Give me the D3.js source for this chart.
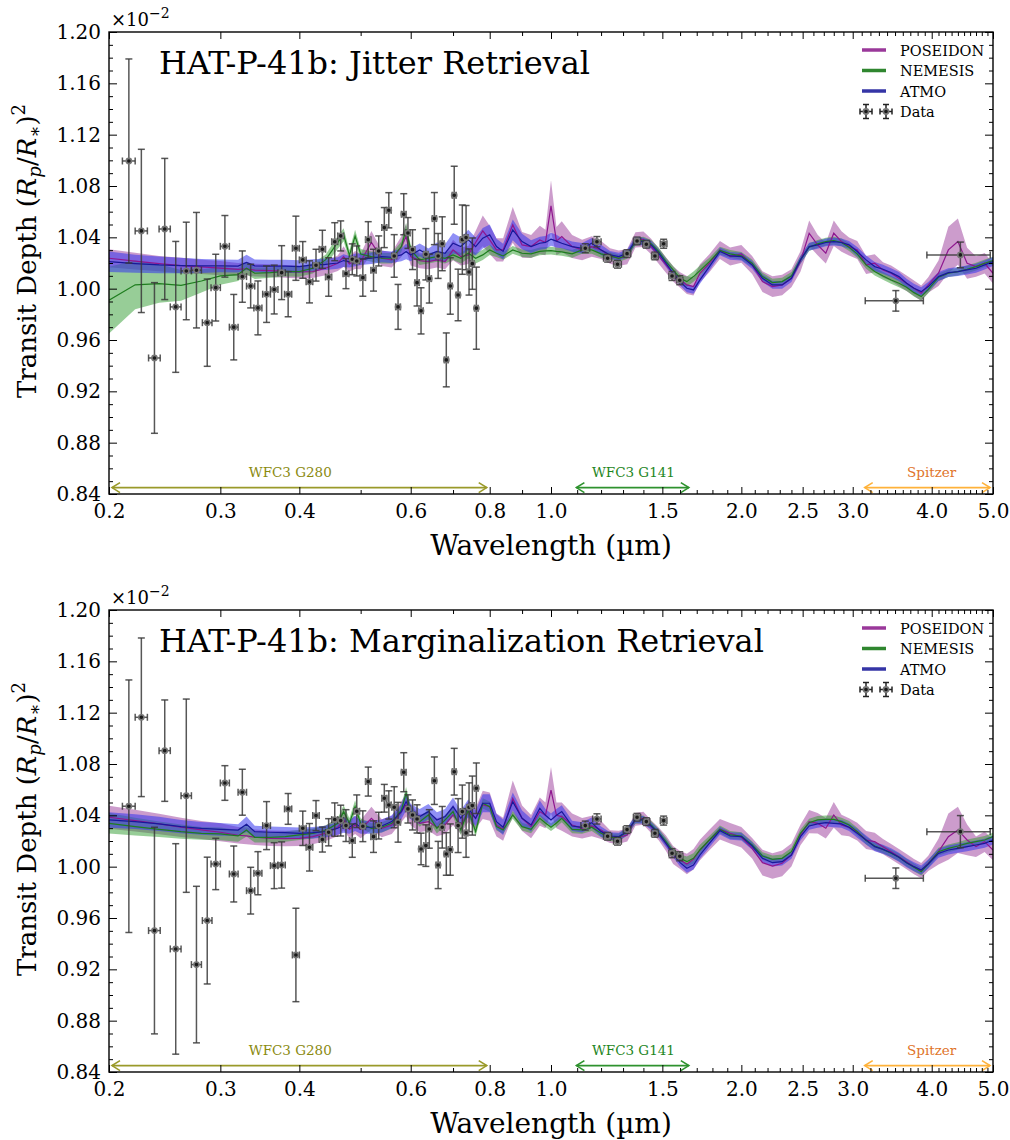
<!DOCTYPE html>
<html>
<head>
<meta charset="utf-8">
<script src="https://cdn.jsdelivr.net/npm/d3@7"></script>
<style>
  body { margin: 0; background: #fff; }
  text { font-family: "DejaVu Serif", serif; }
</style>
</head>
<body>
<svg id="fig" width="1010" height="1140"></svg>
<script>
// ---------- model wavelength grid (µm) ----------
const modelWl = [0.20,0.22,0.24,0.26,0.28,0.30,0.32,0.33,0.34,0.36,0.38,0.40,0.42,0.44,0.46,0.47,0.48,0.49,0.50,
  0.52,0.54,0.56,0.58,0.59,0.60,0.62,0.64,0.66,0.68,0.70,0.72,0.74,0.76,0.78,0.80,0.82,0.84,0.87,0.90,0.93,0.96,0.98,
  1.00,1.02,1.04,1.08,1.12,1.16,1.20,1.24,1.28,1.32,1.36,1.40,1.44,1.48,1.52,1.56,1.60,1.64,1.68,1.72,1.78,1.85,1.92,
  2.00,2.08,2.16,2.24,2.32,2.40,2.48,2.56,2.64,2.72,2.80,2.88,2.96,3.05,3.15,3.25,3.35,3.45,3.55,3.65,3.75,3.85,3.95,
  4.10,4.25,4.40,4.55,4.70,4.85,5.00];

// ---------- Jitter retrieval: model medians and 1-sigma half widths (x1e-2) ----------
const jitPoseidon = [1.0237,1.0215,1.0195,1.018,1.017,1.016,1.015,1.0155,1.0145,1.014,1.0135,1.013,1.0133,1.0159,1.0198,1.025,1.0193,1.0224,1.0211,
  1.036,1.0237,1.0224,1.0328,1.0406,1.025,1.0219,1.0211,1.0224,1.0211,1.0302,1.025,1.0263,1.036,1.045,1.038,1.0302,1.0302,1.0497,1.0341,1.0328,1.038,1.036,
  1.0645,1.037,1.0406,1.0328,1.0302,1.0328,1.0302,1.0255,1.0237,1.025,1.038,1.0385,1.0328,1.0255,1.0185,1.0115,1.0068,1.0029,1.0016,1.012,1.0198,1.0302,1.025,
  1.0271,1.0185,1.0055,1.0016,1.0029,1.0081,1.0211,1.0432,1.0341,1.0276,1.0432,1.0367,1.0328,1.0302,1.0185,1.0198,1.0146,1.012,1.0081,1.0042,1.0003,0.9964,1.0029,
  1.012,1.0302,1.0367,1.0198,1.0172,1.0198,1.012];
const jitPoseidonErr = [0.007,0.0065,0.006,0.006,0.0055,0.0055,0.005,0.005,0.005,0.005,0.005,0.005,0.005,0.0055,0.006,0.008,0.006,0.007,0.006,
  0.009,0.006,0.006,0.008,0.01,0.007,0.006,0.006,0.006,0.006,0.008,0.007,0.007,0.009,0.012,0.011,0.009,0.009,0.014,0.01,0.009,0.011,0.01,
  0.02,0.011,0.012,0.009,0.008,0.008,0.007,0.006,0.006,0.006,0.006,0.006,0.006,0.006,0.006,0.006,0.006,0.007,0.007,0.007,0.007,0.007,0.007,
  0.007,0.007,0.008,0.008,0.008,0.007,0.008,0.01,0.008,0.008,0.01,0.008,0.007,0.007,0.007,0.007,0.006,0.006,0.006,0.006,0.006,0.006,0.006,
  0.01,0.018,0.018,0.012,0.008,0.008,0.008];
const jitNemesis = [0.991,1.003,1.004,1.0025,1.006,1.010,1.011,1.016,1.012,1.0125,1.0135,1.0133,1.0159,1.0224,1.036,1.042,1.026,1.041,1.027,
  1.025,1.0237,1.0237,1.0328,1.0463,1.0302,1.0224,1.0237,1.025,1.0237,1.0263,1.0237,1.0276,1.0237,1.0263,1.0302,1.0276,1.0255,1.0302,1.0276,1.0271,1.029,1.0295,
  1.0297,1.029,1.0286,1.0271,1.0302,1.0302,1.0271,1.0255,1.0237,1.0263,1.0367,1.0375,1.0349,1.029,1.0211,1.0146,1.0081,1.0055,1.0094,1.0141,1.0211,1.0297,1.0271,
  1.0255,1.0198,1.0094,1.0047,1.0055,1.0099,1.0224,1.0323,1.0349,1.0367,1.0375,1.036,1.0323,1.0271,1.0185,1.0133,1.0099,1.0068,1.0042,1.0011,0.9969,0.9938,0.9995,
  1.0089,1.012,1.0133,1.0151,1.0172,1.0198,1.0219];
const jitNemesisErr = [0.026,0.019,0.015,0.012,0.009,0.007,0.005,0.005,0.0045,0.004,0.004,0.004,0.004,0.004,0.005,0.005,0.004,0.005,0.004,
  0.004,0.004,0.004,0.004,0.005,0.004,0.004,0.004,0.004,0.004,0.004,0.004,0.004,0.004,0.004,0.004,0.003,0.003,0.003,0.003,0.003,0.003,0.003,
  0.003,0.003,0.003,0.003,0.003,0.003,0.003,0.003,0.003,0.003,0.003,0.003,0.003,0.003,0.003,0.003,0.003,0.004,0.004,0.004,0.003,0.003,0.003,
  0.003,0.003,0.003,0.003,0.003,0.003,0.003,0.003,0.003,0.003,0.003,0.003,0.003,0.003,0.003,0.003,0.003,0.003,0.003,0.003,0.003,0.003,0.003,
  0.003,0.003,0.003,0.003,0.003,0.003,0.003];
const jitAtmo = [1.021,1.0195,1.0185,1.018,1.0177,1.0177,1.0176,1.0205,1.0178,1.0175,1.0175,1.0172,1.0185,1.019,1.020,1.0219,1.021,1.0224,1.023,
  1.0237,1.025,1.0245,1.0263,1.029,1.0263,1.0302,1.0263,1.029,1.0276,1.0354,1.0328,1.038,1.0328,1.0393,1.042,1.0328,1.029,1.0458,1.0367,1.0328,1.0354,1.036,
  1.0385,1.037,1.0354,1.0328,1.0315,1.0354,1.0302,1.0263,1.025,1.0276,1.0375,1.0367,1.0341,1.0276,1.0198,1.012,1.0055,1.0003,0.999,1.0068,1.0172,1.029,1.0255,
  1.025,1.0185,1.0081,1.0029,1.0029,1.0081,1.0224,1.0328,1.0341,1.036,1.0367,1.036,1.0341,1.029,1.0224,1.0172,1.0151,1.0125,1.0094,1.0042,1.0003,0.9977,1.0016,
  1.0094,1.0125,1.0133,1.0146,1.0159,1.0185,1.0211];
const jitAtmoErr = [0.008,0.007,0.0065,0.006,0.0055,0.005,0.005,0.006,0.005,0.005,0.005,0.005,0.0045,0.0045,0.0045,0.005,0.0045,0.005,0.0045,
  0.0045,0.0045,0.0045,0.005,0.006,0.005,0.005,0.005,0.007,0.007,0.008,0.007,0.008,0.007,0.008,0.008,0.006,0.006,0.008,0.006,0.005,0.005,0.005,
  0.005,0.005,0.004,0.004,0.004,0.004,0.004,0.003,0.003,0.003,0.003,0.003,0.003,0.003,0.003,0.003,0.003,0.003,0.003,0.003,0.003,0.003,0.003,
  0.003,0.003,0.003,0.003,0.003,0.003,0.003,0.003,0.003,0.003,0.003,0.003,0.003,0.0035,0.0035,0.0035,0.0035,0.0035,0.0035,0.0035,0.0035,0.0035,0.0035,
  0.0035,0.0035,0.0035,0.0035,0.0035,0.0035,0.0035];

// ---------- Marginalization retrieval: model medians and 1-sigma half widths (x1e-2) ----------
const margPoseidon = [1.0385,1.0359,1.0333,1.0307,1.0286,1.0268,1.0245,1.024,1.0229,1.0221,1.0219,1.0221,1.0234,1.026,1.0307,1.0364,1.0291,1.0325,1.0291,
  1.0377,1.0299,1.0325,1.0429,1.0481,1.0403,1.0338,1.0351,1.0307,1.0325,1.0403,1.0325,1.0429,1.0377,1.0481,1.0468,1.0325,1.0291,1.0532,1.0377,1.0312,1.0429,1.040,
  1.0597,1.040,1.039,1.0325,1.0299,1.0317,1.0286,1.0234,1.0229,1.0247,1.0369,1.0377,1.0312,1.0255,1.0182,1.0091,1.0052,1.0021,1.0057,1.013,1.0208,1.0291,1.026,
  1.0229,1.0143,1.0031,1.0005,1.0026,1.0091,1.0247,1.0351,1.0338,1.0299,1.0403,1.0325,1.0307,1.0273,1.0208,1.0195,1.0156,1.0117,1.0078,1.0039,1.0,0.9969,1.0026,
  1.0117,1.0234,1.0286,1.0208,1.0156,1.0195,1.013];
const margPoseidonErr = [0.009,0.0085,0.008,0.0075,0.007,0.007,0.0065,0.0065,0.006,0.006,0.006,0.006,0.006,0.006,0.007,0.008,0.007,0.007,0.007,
  0.009,0.007,0.007,0.008,0.009,0.008,0.007,0.007,0.007,0.007,0.008,0.007,0.008,0.008,0.011,0.011,0.009,0.009,0.014,0.01,0.009,0.011,0.01,
  0.018,0.01,0.011,0.009,0.008,0.008,0.007,0.005,0.005,0.005,0.005,0.005,0.005,0.005,0.006,0.007,0.007,0.008,0.008,0.008,0.008,0.008,0.008,
  0.008,0.008,0.01,0.01,0.01,0.009,0.008,0.009,0.008,0.008,0.01,0.008,0.007,0.007,0.007,0.007,0.006,0.006,0.006,0.006,0.006,0.006,0.006,
  0.01,0.018,0.018,0.012,0.008,0.008,0.008];
const margNemesis = [1.0338,1.0312,1.0291,1.0273,1.026,1.0255,1.024,1.0286,1.0229,1.0229,1.0234,1.0247,1.026,1.0281,1.0338,1.0429,1.0338,1.0468,1.0338,
  1.0299,1.0307,1.0338,1.0442,1.0571,1.0429,1.0351,1.0403,1.0299,1.0364,1.0429,1.0286,1.0442,1.0273,1.0494,1.0468,1.0312,1.0286,1.0403,1.0312,1.0291,1.0377,1.034,
  1.0307,1.034,1.0377,1.0291,1.0286,1.0307,1.026,1.0229,1.0229,1.0273,1.0364,1.0369,1.0325,1.0265,1.0195,1.0117,1.0065,1.0039,1.0065,1.013,1.0208,1.0291,1.0247,
  1.0239,1.0169,1.0083,1.0057,1.0065,1.0117,1.026,1.0343,1.0364,1.0369,1.0369,1.0351,1.0325,1.0273,1.0203,1.0161,1.0135,1.0104,1.0073,1.0031,0.9995,0.9961,1.0021,
  1.0117,1.0143,1.0161,1.0182,1.0195,1.0208,1.0234];
const margNemesisErr = [0.008,0.007,0.006,0.0055,0.005,0.005,0.0045,0.005,0.004,0.004,0.004,0.004,0.004,0.004,0.004,0.005,0.004,0.005,0.004,
  0.004,0.004,0.004,0.004,0.005,0.004,0.004,0.004,0.004,0.004,0.004,0.004,0.004,0.004,0.004,0.004,0.003,0.003,0.003,0.003,0.003,0.003,0.003,
  0.003,0.003,0.003,0.003,0.003,0.003,0.003,0.003,0.003,0.003,0.003,0.003,0.003,0.003,0.003,0.003,0.003,0.004,0.004,0.004,0.003,0.003,0.003,
  0.003,0.003,0.003,0.003,0.003,0.003,0.003,0.003,0.003,0.003,0.003,0.003,0.003,0.003,0.003,0.003,0.003,0.003,0.003,0.003,0.003,0.003,0.003,
  0.003,0.003,0.003,0.003,0.003,0.003,0.003];
const margAtmo = [1.0364,1.0351,1.0333,1.0312,1.0299,1.0291,1.0285,1.033,1.0273,1.0268,1.0265,1.026,1.0265,1.0273,1.0299,1.0325,1.0307,1.0338,1.0307,
  1.0307,1.0317,1.0351,1.0429,1.0507,1.0429,1.039,1.0429,1.0364,1.039,1.0468,1.0377,1.0455,1.0377,1.0494,1.0494,1.0351,1.0307,1.0507,1.0377,1.0325,1.0455,1.040,
  1.0364,1.040,1.0429,1.0317,1.0307,1.0343,1.0273,1.0239,1.0234,1.0273,1.0369,1.0364,1.0317,1.026,1.0182,1.0104,1.0031,0.9987,1.0013,1.0091,1.0182,1.0281,1.0239,
  1.0234,1.0161,1.0065,1.0031,1.0039,1.0091,1.0234,1.0317,1.0333,1.0343,1.0338,1.0333,1.0307,1.026,1.0208,1.0156,1.0135,1.0109,1.0073,1.0031,1.0,0.9974,1.0021,
  1.0104,1.013,1.0143,1.0156,1.0169,1.0182,1.0208];
const margAtmoErr = [0.006,0.0058,0.0055,0.0052,0.005,0.005,0.0045,0.006,0.0045,0.0045,0.0045,0.0045,0.0045,0.0045,0.005,0.006,0.005,0.006,0.005,
  0.005,0.005,0.005,0.006,0.007,0.006,0.006,0.006,0.006,0.006,0.007,0.006,0.007,0.006,0.007,0.007,0.006,0.006,0.007,0.006,0.005,0.006,0.005,
  0.005,0.005,0.005,0.004,0.004,0.004,0.004,0.003,0.003,0.003,0.003,0.003,0.003,0.003,0.003,0.003,0.003,0.0035,0.0035,0.003,0.003,0.003,0.003,
  0.003,0.003,0.003,0.003,0.003,0.003,0.003,0.003,0.003,0.003,0.003,0.003,0.003,0.0035,0.0035,0.0035,0.0035,0.0035,0.0035,0.0035,0.0035,0.0035,0.0035,
  0.0035,0.0035,0.0035,0.0035,0.0035,0.0035,0.0035];

// ---------- observed spectrum ----------
// WFC3 G280 bins (half width 0.005 µm)
const g280Wl = [0.215,0.225,0.236,0.245,0.255,0.265,0.275,0.286,0.295,0.305,0.315,0.325,0.335,0.344,0.355,0.365,0.375,0.384,0.395,
  0.405,0.415,0.425,0.435,0.445,0.455,0.465,0.474,0.485,0.493,0.504,0.514,0.524,0.534,0.545,0.554,0.565,0.573,0.585,0.594,0.604,
  0.614,0.623,0.634,0.642,0.654,0.663,0.673,0.683,0.693,0.703,0.713,0.724,0.734,0.742,0.751,0.762];
const g280HalfWidth = 0.005;
const jitG280 = [1.0995,1.045,0.946,1.0465,0.9858,1.0138,1.0144,0.9735,1.0008,1.033,0.970,1.0094,1.002,0.985,0.9957,0.9993,1.0125,0.9957,1.0315,
  1.0224,1.0053,1.0183,1.0307,1.0091,1.0366,1.0411,1.0117,1.0229,1.0216,1.0086,1.0382,1.0144,1.0294,1.0476,1.0611,1.0255,0.9858,1.058,1.0434,1.0304,
  1.0047,0.9827,1.0268,1.0078,1.0546,1.0255,1.035,0.9445,1.0021,1.0728,0.9951,1.0382,1.0398,1.013,1.0195,0.9848];
const jitG280Err = [0.0795,0.0636,0.0587,0.055,0.051,0.038,0.045,0.034,0.026,0.024,0.0255,0.020,0.017,0.021,0.022,0.019,0.021,0.0176,0.025,
  0.0143,0.0164,0.0124,0.0148,0.015,0.0148,0.0117,0.0117,0.012,0.0117,0.0145,0.014,0.0163,0.0117,0.0156,0.0137,0.0166,0.0175,0.016,0.012,0.0155,
  0.0182,0.018,0.02,0.019,0.0203,0.0175,0.021,0.021,0.022,0.0226,0.0201,0.027,0.025,0.018,0.02,0.032];
const margG280 = [1.0471,1.1164,0.9502,1.0904,0.9359,1.0553,0.9237,0.958,1.0021,1.0652,0.9943,1.058,0.9813,0.9949,1.032,1.0008,1.0013,1.045,0.9312,
  1.0299,1.0151,1.0398,1.0211,1.0268,1.0367,1.0359,1.032,1.0203,1.0432,1.0315,1.0663,1.0234,1.032,1.0533,1.0481,1.0463,1.0346,1.0736,1.045,1.0403,
  1.0372,1.0138,1.0164,1.0294,1.067,1.0013,1.0307,1.0099,1.0133,1.074,1.032,1.0429,1.0263,1.0463,1.0476,1.0611];
const margG280Err = [0.0984,0.0618,0.0805,0.0395,0.082,0.0753,0.061,0.0494,0.02,0.0135,0.0218,0.0179,0.0182,0.0168,0.0187,0.0179,0.018,0.012,0.0364,
  0.0134,0.0185,0.0117,0.0097,0.0106,0.013,0.012,0.0124,0.013,0.0127,0.012,0.0113,0.0123,0.0104,0.0108,0.011,0.016,0.0155,0.0152,0.011,0.0117,
  0.011,0.0123,0.0162,0.015,0.0185,0.0184,0.0162,0.0166,0.02,0.0182,0.021,0.0207,0.019,0.019,0.023,0.0197];

// WFC3 G141 bins (half width 0.018 µm)
const g141Wl = [1.133,1.182,1.229,1.274,1.319,1.368,1.415,1.46,1.507,1.554,1.598];
const g141HalfWidth = 0.018;
const jitG141 = [1.0315,1.0366,1.0237,1.019,1.0273,1.0372,1.0346,1.0255,1.035,1.0099,1.0066];
const margG141 = [1.032,1.0372,1.0237,1.0198,1.0289,1.0385,1.0351,1.026,1.0359,1.0105,1.0081];
const g141Err = [0.0035,0.004,0.003,0.003,0.003,0.003,0.003,0.003,0.0035,0.0035,0.0035];

// Spitzer IRAC channels
const spitzerWl = [3.51,4.44];
const spitzerHalfWidth = [0.37,0.51];
const jitSpitzer = [0.9905,1.0263];
const jitSpitzerErr = [0.008,0.01];
const margSpitzer = [0.991,1.0273];
const margSpitzerErr = [0.008,0.0125];

// ---------- axis ticks and labels ----------
const xTickValues = [0.2,0.3,0.4,0.6,0.8,1.0,1.5,2.0,2.5,3.0,4.0,5.0];
const xMinorValues = [0.5,0.7,0.9,1.1,1.2,1.3,1.4,1.6,1.7,1.8,1.9,2.1,2.2,2.3,2.4,2.6,2.7,2.8,2.9,3.1,3.2,3.3,3.4,3.5,3.6,3.7,3.8,3.9,4.1,4.2,4.3,4.4,4.5,4.6,4.7,4.8,4.9];
const yTickValues = [0.84,0.88,0.92,0.96,1.00,1.04,1.08,1.12,1.16,1.20];
const modelNames = ["POSEIDON","NEMESIS","ATMO"];
const instruments = [
  {name:"WFC3 G280", from:0.2,   to:0.8,  text:0.387, color:"#9a9a2a", textColor:"#8a8a10"},
  {name:"WFC3 G141", from:1.085, to:1.67, text:1.35,  color:"#2e922e", textColor:"#1e861e"},
  {name:"Spitzer",   from:3.1,   to:5.0,  text:4.0,   color:"#ffb23a", textColor:"#e0742a"}
];

// ---------- styling ----------
const style = {
  POSEIDON: {line:"#8f168f", band:"#9a3a9a", bandOpacity:0.5, legend:"#9a389a"},
  NEMESIS:  {line:"#1e7d1e", band:"#2f9b2f", bandOpacity:0.5, legend:"#2f862f"},
  ATMO:     {line:"#18189a", band:"#3434ef", bandOpacity:0.55, legend:"#3535a6"}
};

const panels = [
  {top:32, title:"HAT-P-41b: Jitter Retrieval",
   models:{POSEIDON:[jitPoseidon,jitPoseidonErr], NEMESIS:[jitNemesis,jitNemesisErr], ATMO:[jitAtmo,jitAtmoErr]},
   g280:[jitG280,jitG280Err], g141:[jitG141,g141Err], spitzer:[jitSpitzer,jitSpitzerErr]},
  {top:610, title:"HAT-P-41b: Marginalization Retrieval",
   models:{POSEIDON:[margPoseidon,margPoseidonErr], NEMESIS:[margNemesis,margNemesisErr], ATMO:[margAtmo,margAtmoErr]},
   g280:[margG280,margG280Err], g141:[margG141,g141Err], spitzer:[margSpitzer,margSpitzerErr]}
];

const left = 109, right = 993, plotH = 462;
const svg = d3.select("#fig");
svg.append("rect").attr("width",1010).attr("height",1140).attr("fill","#fff");
const x = d3.scaleLog().domain([0.2,5.0]).range([left,right]);

panels.forEach((p,pi) => {
  const top = p.top, bottom = top + plotH;
  const y = d3.scaleLinear().domain([0.84,1.20]).range([bottom, top]);
  const g = svg.append("g");
  const clipId = "clip" + pi;
  g.append("clipPath").attr("id",clipId).append("rect")
    .attr("x",left).attr("y",top).attr("width",right-left).attr("height",plotH);
  const plot = g.append("g").attr("clip-path",`url(#${clipId})`);

  // model credible bands and medians
  const area = d3.area().x(d=>x(d.w)).y0(d=>y(d.m-d.e)).y1(d=>y(d.m+d.e));
  const line = d3.line().x(d=>x(d.w)).y(d=>y(d.m));
  const series = name => modelWl.map((w,i)=>({w, m:p.models[name][0][i], e:p.models[name][1][i]}));
  modelNames.forEach(n => {
    plot.append("path").datum(series(n)).attr("d",area)
      .attr("fill",style[n].band).attr("fill-opacity",style[n].bandOpacity).attr("stroke","none");
  });
  modelNames.forEach(n => {
    plot.append("path").datum(series(n)).attr("d",line)
      .attr("fill","none").attr("stroke",style[n].line).attr("stroke-width",1.2);
  });

  // observed points with error bars
  const pts = [];
  g280Wl.forEach((w,i)=>pts.push({w, v:p.g280[0][i], e:p.g280[1][i], hw:g280HalfWidth}));
  g141Wl.forEach((w,i)=>pts.push({w, v:p.g141[0][i], e:p.g141[1][i], hw:g141HalfWidth}));
  spitzerWl.forEach((w,i)=>pts.push({w, v:p.spitzer[0][i], e:p.spitzer[1][i], hw:spitzerHalfWidth[i]}));
  const eb = plot.append("g").attr("stroke","#3a3a3a").attr("stroke-opacity",0.85).attr("stroke-width",1.5);
  pts.forEach(d => {
    const cx = x(d.w), cy = y(d.v), y1 = y(d.v+d.e), y2 = y(d.v-d.e), x1 = x(d.w-d.hw), x2 = x(d.w+d.hw);
    eb.append("line").attr("x1",cx).attr("x2",cx).attr("y1",y1).attr("y2",y2);
    eb.append("line").attr("x1",x1).attr("x2",x2).attr("y1",cy).attr("y2",cy);
    eb.append("line").attr("x1",cx-3.5).attr("x2",cx+3.5).attr("y1",y1).attr("y2",y1);
    eb.append("line").attr("x1",cx-3.5).attr("x2",cx+3.5).attr("y1",y2).attr("y2",y2);
    eb.append("line").attr("x1",x1).attr("x2",x1).attr("y1",cy-3.5).attr("y2",cy+3.5);
    eb.append("line").attr("x1",x2).attr("x2",x2).attr("y1",cy-3.5).attr("y2",cy+3.5);
  });
  plot.append("g").selectAll("circle").data(pts).join("circle")
    .attr("cx",d=>x(d.w)).attr("cy",d=>y(d.v)).attr("r",2.6)
    .attr("fill","#1a1a1a").attr("stroke","#777").attr("stroke-width",1.6);

  // instrument coverage arrows
  instruments.forEach(ins => {
    const ya = y(0.845), x1 = x(ins.from)+3, x2 = x(ins.to)-3;
    const ag = g.append("g").attr("stroke",ins.color).attr("stroke-width",1.6).attr("fill","none");
    ag.append("line").attr("x1",x1).attr("x2",x2).attr("y1",ya).attr("y2",ya);
    ag.append("path").attr("d",`M${x1+8},${ya-5}L${x1},${ya}L${x1+8},${ya+5}`);
    ag.append("path").attr("d",`M${x2-8},${ya-5}L${x2},${ya}L${x2-8},${ya+5}`);
    g.append("text").attr("x",x(ins.text)).attr("y",y(0.857)+4.5).attr("text-anchor","middle")
      .attr("font-family","'DejaVu Sans Condensed','DejaVu Sans',sans-serif").attr("font-size",13.5)
      .attr("fill",ins.textColor).text(ins.name);
  });

  // axes (ticks pointing inward on all four sides)
  const fmtX = d3.format(".1f"), fmtY = d3.format(".2f");
  g.append("g").attr("transform",`translate(0,${bottom})`)
    .call(d3.axisBottom(x).tickValues(xTickValues).tickFormat(fmtX).tickSize(-7).tickPadding(10));
  g.append("g").attr("transform",`translate(0,${bottom})`)
    .call(d3.axisBottom(x).tickValues(xMinorValues).tickFormat("").tickSize(-4));
  g.append("g").attr("transform",`translate(0,${top})`)
    .call(d3.axisTop(x).tickValues(xTickValues).tickFormat("").tickSize(-7));
  g.append("g").attr("transform",`translate(0,${top})`)
    .call(d3.axisTop(x).tickValues(xMinorValues).tickFormat("").tickSize(-4));
  const yMinor = d3.range(0.85,1.2,0.01).filter(v => Math.abs(Math.round(v*25)-v*25) > 1e-6);
  g.append("g").attr("transform",`translate(${left},0)`)
    .call(d3.axisLeft(y).tickValues(yTickValues).tickFormat(fmtY).tickSize(-8).tickPadding(8));
  g.append("g").attr("transform",`translate(${left},0)`)
    .call(d3.axisLeft(y).tickValues(yMinor).tickFormat("").tickSize(-4));
  g.append("g").attr("transform",`translate(${right},0)`)
    .call(d3.axisRight(y).tickValues(yTickValues).tickFormat("").tickSize(-8));
  g.append("g").attr("transform",`translate(${right},0)`)
    .call(d3.axisRight(y).tickValues(yMinor).tickFormat("").tickSize(-4));
  g.selectAll(".domain").remove();
  g.selectAll(".tick line").attr("stroke","#000").attr("stroke-width",1);
  g.selectAll(".tick text").attr("font-family","'DejaVu Serif',serif").attr("font-size",20).attr("fill","#000");
  g.append("rect").attr("x",left).attr("y",top).attr("width",right-left).attr("height",plotH)
    .attr("fill","none").attr("stroke","#000").attr("stroke-width",1.4);

  // offset text for the y scale
  const off = g.append("text").attr("x",111).attr("y",top-6).attr("font-size",18);
  off.append("tspan").text("×10");
  off.append("tspan").attr("font-size",14).attr("dy",-8).text("−2");

  // title
  g.append("text").attr("x",159).attr("y",top+42).attr("font-size",32).attr("fill","#000").text(p.title);

  // axis labels
  g.append("text").attr("x",551).attr("y",bottom+61).attr("text-anchor","middle").attr("font-size",28).text("Wavelength (µm)");
  const yl = g.append("text").attr("transform",`translate(36,${top+219}) rotate(-90)`).attr("text-anchor","middle").attr("font-size",26);
  yl.append("tspan").text("Transit Depth (");
  yl.append("tspan").attr("font-style","italic").text("R");
  yl.append("tspan").attr("font-style","italic").attr("font-size",18).attr("dy",5).text("p");
  yl.append("tspan").attr("dy",-5).text("/");
  yl.append("tspan").attr("font-style","italic").text("R");
  yl.append("tspan").attr("font-size",18).attr("dy",5).text("∗");
  yl.append("tspan").attr("dy",-5).text(")");
  yl.append("tspan").attr("font-size",18).attr("dy",-11).text("2");

  // legend
  const lg = g.append("g");
  modelNames.forEach((n,i) => {
    const ly = top + 18 + i*20.5;
    lg.append("line").attr("x1",862).attr("x2",886).attr("y1",ly).attr("y2",ly)
      .attr("stroke",style[n].legend).attr("stroke-width",3.5);
    lg.append("text").attr("x",900).attr("y",ly+5.5).attr("font-size",14.5).text(n);
  });
  const dy = top + 18 + 3*20.5;
  [866,886].forEach(cx => {
    const mg = lg.append("g").attr("stroke","#222").attr("stroke-width",1.5);
    mg.append("line").attr("x1",cx).attr("x2",cx).attr("y1",dy-7).attr("y2",dy+7);
    mg.append("line").attr("x1",cx-6).attr("x2",cx+6).attr("y1",dy).attr("y2",dy);
    mg.append("line").attr("x1",cx-3).attr("x2",cx+3).attr("y1",dy-7).attr("y2",dy-7);
    mg.append("line").attr("x1",cx-3).attr("x2",cx+3).attr("y1",dy+7).attr("y2",dy+7);
    mg.append("line").attr("x1",cx-6).attr("x2",cx-6).attr("y1",dy-3).attr("y2",dy+3);
    mg.append("line").attr("x1",cx+6).attr("x2",cx+6).attr("y1",dy-3).attr("y2",dy+3);
    lg.append("circle").attr("cx",cx).attr("cy",dy).attr("r",2.6).attr("fill","#1a1a1a").attr("stroke","#777").attr("stroke-width",1.6);
  });
  lg.append("text").attr("x",900).attr("y",dy+5.5).attr("font-size",14.5).text("Data");
});
</script>
</body>
</html>
